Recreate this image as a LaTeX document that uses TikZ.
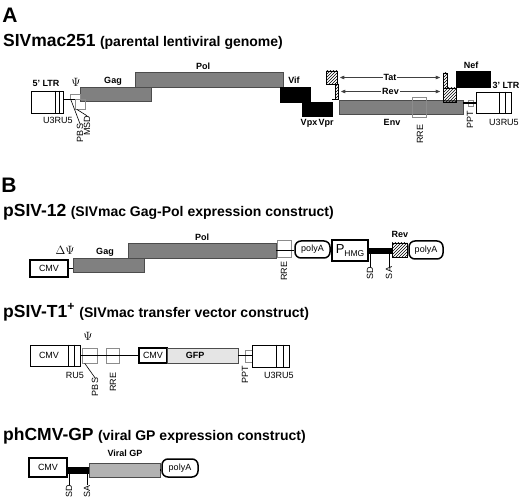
\documentclass[tikz,border=0pt]{standalone}
\usepackage{fontspec}
\setsansfont{Liberation Sans}
\usetikzlibrary{positioning,arrows,calc,patterns}
\newcommand{\gbox}[7][]{\node[inner sep=0pt,minimum width={#5-#3},minimum height={#6-#4},#1] (#2) at ({(#3+#5)/2},{(#4+#6)/2}) {#7};}

\begin{document}
\begin{tikzpicture}[x=1pt,y=-1pt,font=\sffamily,
	panel/.style={font=\sffamily\bfseries\fontsize{21}{22}\selectfont,inner sep=0pt},
	head/.style={font=\sffamily\bfseries\fontsize{17.5}{18}\selectfont,anchor=base west,inner sep=0pt},
	sub/.style={font=\sffamily\bfseries\fontsize{14}{15}\selectfont,anchor=base west,inner sep=0pt},
	lab/.style={font=\sffamily\bfseries\fontsize{9}{9}\selectfont,inner sep=1pt},
	tag/.style={font=\sffamily\fontsize{9}{9}\selectfont,inner sep=0pt},
	vtag/.style={tag,rotate=90},
	psi/.style={inner sep=0pt,font=\fontsize{12}{12}\selectfont},
	box/.style={draw,line width=0.8pt,fill=white},
	cmv/.style={draw,line width=1.5pt,fill=white,font=\sffamily\fontsize{9}{9}\selectfont},
	pa/.style={cmv,rounded corners=6pt},
	gene/.style={draw=black!70,line width=0.5pt,fill=black!50},
	acc/.style={draw,line width=0.5pt,fill=black},
	hatch/.style={draw,line width=0.5pt,pattern=north east lines},
	site/.style={draw=black!45,line width=0.6pt},
	link/.style={line width=1.2pt},
	lead/.style={line width=0.6pt},
	arr/.style={<->,>=stealth',draw=black!75,line width=0.6pt,shorten <=3pt,shorten >=3pt}]
	\useasboundingbox (0,0) rectangle (520,500);
	
	\node[panel] (A) at (10,15) {A};
	\node[head] (tA) at (3,47) {SIVmac251};
	\node[sub] (sA) at ([xshift=4pt]tA.base east) {(parental lentiviral genome)};
	
	\gbox[box]{ltrA5}{31}{91}{63}{113}{}
	\foreach \f in {0.75,0.875}
		\draw[line width=0.8pt] ($(ltrA5.north west)!\f!(ltrA5.north east)$) -- ($(ltrA5.south west)!\f!(ltrA5.south east)$);
	\gbox[gene]{polA}{135}{72}{283}{87}{}
	\gbox[gene]{gagA}{80}{87}{151}{101}{}
	\gbox[site]{pbsA}{70}{94}{80}{99}{}
	\draw[link] (ltrA5.east |- pbsA.south) -- (gagA.west |- pbsA.south);
	\gbox[site]{msdA}{75}{99}{85}{109}{}
	\gbox[acc]{vif}{280}{87}{310}{102}{}
	\gbox[acc]{vpx}{302}{102}{317}{116}{}
	\gbox[acc]{vpr}{318}{102}{332}{116}{}
	\gbox[gene]{env}{339}{100}{463}{114}{}
	\draw[link] (vpr.east |- env.north) -- (env.north west);
	\gbox[hatch]{tat1}{326}{71}{337}{84}{}
	\gbox[hatch]{rev1}{335}{84}{338}{99}{}
	\gbox[hatch]{tat2}{443}{73}{447}{88}{}
	\gbox[hatch]{rev2}{443}{88}{456}{102}{}
	\gbox[acc]{nef}{456}{71}{490}{87}{}
	\gbox[site]{rreA}{412}{97}{426}{117}{}
	\gbox[site]{pptA}{468}{100}{473}{106}{}
	\gbox[box]{ltrA3}{476}{92}{511}{113}{}
	\foreach \f in {0.657,0.83}
		\draw[line width=0.8pt] ($(ltrA3.north west)!\f!(ltrA3.north east)$) -- ($(ltrA3.south west)!\f!(ltrA3.south east)$);
	\draw[link] (env.east |- pptA) -- (ltrA3.west |- pptA);
	\draw[arr] (tat1.east) -- node[lab,fill=white] (tatl) {Tat} (tat2.west |- tat1.east);
	\draw[arr] (rev1.east) -- node[lab,fill=white] (revl) {Rev} (tat2.west |- rev1.east);
	
	\node[lab] (ltrA5l) at (46,83) {5' LTR};
	\node[psi] (psiA) at (76,82) {$\Psi$};
	\node[lab] (gagAl) at (113,81) {Gag};
	\node[lab] (polAl) at (203,66) {Pol};
	\node[lab] (vifl) at (294,80) {Vif};
	\node[lab] (vpxl) at (309,123) {Vpx};
	\node[lab] (vprl) at (326,123) {Vpr};
	\node[lab] (envl) at (392,122) {Env};
	\node[lab] (nefl) at (471,65) {Nef};
	\node[lab] (ltrA3l) at (506,85) {3' LTR};
	\node[tag] (uA5) at (58,120) {U3RU5};
	\node[tag] (uA3) at (504,122) {U3RU5};
	\node[vtag] (pbsAl) at (80,133) {PBS};
	\node[vtag] (msdAl) at (87,126) {MSD};
	\draw[lead] ([xshift=1pt]pbsA.south west) -- (pbsAl.east);
	\draw[lead] ([xshift=2pt]msdA.south west) -- (msdAl.east);
	\node[vtag] (rreAl) at (420,134) {RRE};
	\node[vtag] (pptAl) at (470,120) {PPT};
	
	\node[panel] (B) at (9,185) {B};
	\node[head] (tB) at (3,217) {pSIV-12};
	\node[sub] (sB) at ([xshift=4pt]tB.base east) {(SIVmac Gag-Pol expression construct)};
	
	\gbox[cmv]{cmvB}{30}{260}{68}{277}{CMV}
	\gbox[gene]{polB}{128}{243}{276}{258}{}
	\gbox[gene]{gagB}{73}{258}{144}{272}{}
	\draw[link] (cmvB.east) -- (gagB.west |- cmvB.east);
	\gbox[site]{rreB}{277}{240}{291}{257}{}
	\gbox[pa]{paB1}{295}{241}{330}{258}{polyA}
	\draw[link] (polB.east) -- (paB1.west |- polB.east);
	\gbox[cmv]{phmg}{332}{240}{368}{261}{\fontsize{13}{13}\selectfont P\raisebox{-2.5pt}{\fontsize{8.5}{9}\selectfont HMG}}
	\gbox[acc]{splB}{368}{248}{392}{253}{}
	\gbox[hatch]{revB}{392}{243}{407}{257}{}
	\gbox[pa]{paB2}{409}{241}{443}{259}{polyA}
	\draw[link] (revB.east) -- (paB2.west |- revB.east);
	\foreach \n/\x/\t in {sdB/370/SD,saB/389/SA}{
		\node[vtag] (\n) at (\x,273) {\t};
		\draw[lead] (\n.east) -- (\n.east |- splB.south);}
	
	\node[psi] (dpsi) at (65,250) {$\Delta\Psi$};
	\node[lab] (gagBl) at (105,252) {Gag};
	\node[lab] (polBl) at (202,237) {Pol};
	\node[lab] (revBl) at (400,234) {Rev};
	\node[vtag] (rreBl) at (284,271) {RRE};
	
	\node[head] (tT) at (3,317) {pSIV-T1\textsuperscript{+}};
	\node[sub] (sT) at ([xshift=4pt]tT.base east) {(SIVmac transfer vector construct)};
	
	\gbox[box]{ltrT5}{30}{345}{80}{366}{}
	\foreach \f in {0.76,0.88}
		\draw[line width=0.8pt] ($(ltrT5.north west)!\f!(ltrT5.north east)$) -- ($(ltrT5.south west)!\f!(ltrT5.south east)$);
	\node[tag] (cmvTl) at (49,355.5) {CMV};
	\gbox[site]{pbsT}{82}{348}{97}{363}{}
	\gbox[site]{rreT}{106}{348}{119}{363}{}
	\gbox[cmv]{cmvT}{139}{348}{167}{363}{CMV}
	\draw[link] (ltrT5.east |- cmvT) -- (cmvT.west);
	\gbox[gene,fill=black!10]{gfp}{167}{348}{238}{363}{}
	\gbox[site]{pptT}{245}{350}{252}{362}{}
	\gbox[box]{ltrT3}{252}{345}{289}{367}{}
	\foreach \f in {0.65,0.84}
		\draw[line width=0.8pt] ($(ltrT3.north west)!\f!(ltrT3.north east)$) -- ($(ltrT3.south west)!\f!(ltrT3.south east)$);
	\draw[link] (gfp.east) -- (ltrT3.west |- gfp.east);
	
	\node[lab] (gfpl) at (195,355.5) {GFP};
	\node[psi] (psiT) at (88,336) {$\Psi$};
	\node[tag] (uT5) at (75,375) {RU5};
	\node[vtag] (pbsTl) at (95,387) {PBS};
	\draw[lead] ([xshift=3pt]pbsT.south west) -- (pbsTl.east);
	\node[vtag] (rreTl) at (113,382) {RRE};
	\node[vtag] (pptTl) at (245,375) {PPT};
	\node[tag] (uT3) at (279,375) {U3RU5};
	
	\node[head] (tG) at (3,440) {phCMV-GP};
	\node[sub] (sG) at ([xshift=4pt]tG.base east) {(viral GP expression construct)};
	
	\gbox[cmv]{cmvG}{29}{458}{67}{477}{CMV}
	\gbox[acc]{splG}{67}{467}{89}{473}{}
	\gbox[gene,fill=black!30]{vgp}{89}{463}{160}{477}{}
	\gbox[pa]{paG}{162}{459}{198}{477}{polyA}
	\draw[link] (vgp.east) -- (paG.west |- vgp.east);
	\foreach \n/\x/\t in {sdG/69/SD,saG/87/SA}{
		\node[vtag] (\n) at (\x,491) {\t};
		\draw[lead] (\n.east) -- (\n.east |- splG.south);}
	\node[lab] (vgpl) at (125,453) {Viral GP};
\end{tikzpicture}
\end{document}
